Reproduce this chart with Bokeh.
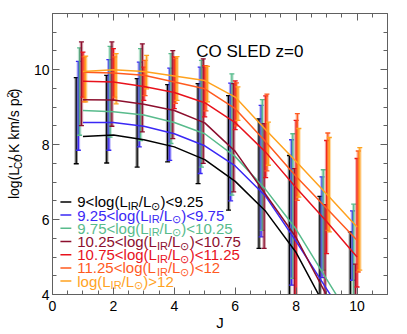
import math
from bokeh.plotting import figure
from bokeh.layouts import row
from bokeh.models import LinearAxis, Range1d, FixedTicker, ColumnDataSource, Label
from bokeh.core.properties import value, field
from bokeh.embed import file_html
from bokeh.resources import INLINE

# ---------------- data ----------------
J = [1, 2, 3, 4, 5, 6, 7, 8, 9, 10]
x_ticks = [0, 2, 4, 6, 8, 10]
y_ticks = [4, 6, 8, 10]
x_minor = [0.5 * k for k in range(23)]
y_minor = [4 + 0.5 * k for k in range(16)]

series_names = ["black", "blue", "green", "darkred", "red", "orangered", "orange"]
colors = ["#000000", "#3a28f5", "#58bb8c", "#8c0f2e", "#e8121c", "#ff5a1f", "#ffa21e"]
offsets = [-0.22, -0.15, -0.11, -0.05, 0.0, 0.04, 0.09]

model_black = [8.22, 8.26, 8.13, 7.94, 7.60, 7.02, 6.22, 5.12, 3.60, 2.20]
model_blue = [8.59, 8.59, 8.49, 8.29, 7.97, 7.43, 6.62, 5.42, 4.15, 2.90]
model_green = [8.91, 8.88, 8.79, 8.59, 8.29, 7.68, 6.80, 5.74, 4.41, 3.10]
model_darkred = [9.20, 9.19, 9.08, 8.91, 8.58, 7.82, 6.67, 5.52, 3.98, 2.50]
model_red = [9.69, 9.67, 9.55, 9.39, 9.12, 8.59, 7.80, 6.85, 5.95, 5.00]
model_orangered = [9.93, 9.91, 9.85, 9.67, 9.49, 8.96, 8.08, 7.15, 6.30, 5.45]
model_orange = [9.95, 10.00, 9.95, 9.83, 9.71, 9.27, 8.40, 7.55, 6.68, 5.80]

hi_black = [9.79, 9.85, 9.76, 9.60, 9.63, 9.31, 8.69, 7.71, 6.62, 5.67]
lo_black = [7.49, 7.51, 7.40, 7.54, 6.96, 6.25, 5.23, 3.80, 3.50, 3.00]
hi_blue = [10.22, 10.27, 10.20, 10.04, 10.07, 9.64, 9.05, 8.13, 7.14, 6.23]
lo_blue = [7.85, 7.85, 7.94, 7.58, 7.23, 6.50, 5.54, 4.25, 4.45, 4.38]
hi_green = [10.58, 10.62, 10.56, 10.43, 10.25, 9.89, 9.20, 8.29, 7.33, 6.41]
lo_green = [8.25, 8.20, 8.11, 8.03, 7.40, 6.65, 5.71, 4.43, 4.65, 3.80]
hi_darkred = [10.74, 10.74, 10.69, 10.51, 10.29, 9.63, 8.56, 7.36, 6.40, 4.81]
lo_darkred = [8.51, 8.49, 8.34, 8.16, 7.50, 6.74, 5.23, 3.80, 3.50, 3.50]
hi_red = [10.47, 10.56, 10.07, 10.34, 10.11, 9.70, 9.30, 8.65, 8.11, 7.63]
lo_red = [9.27, 9.18, 9.18, 8.96, 8.74, 8.40, 7.12, 3.80, 5.09, 4.20]
hi_orangered = [10.34, 10.34, 10.25, 10.30, 10.10, 9.65, 9.35, 8.83, 8.31, 7.83]
lo_orangered = [9.14, 9.27, 9.31, 9.10, 8.90, 8.50, 7.30, 6.51, 5.71, 4.60]
hi_orange = [10.36, 10.43, 10.38, 10.35, 10.09, 9.54, 8.60, 8.43, 8.19, 7.92]
lo_orange = [9.14, 9.09, 9.49, 9.18, 9.14, 8.65, 7.45, 6.60, 5.67, 4.65]

models = [model_black, model_blue, model_green, model_darkred, model_red, model_orangered, model_orange]
his = [hi_black, hi_blue, hi_green, hi_darkred, hi_red, hi_orangered, hi_orange]
los = [lo_black, lo_blue, lo_green, lo_darkred, lo_red, lo_orangered, lo_orange]

leg_prefix = ["9<log(L", "9.25<log(L", "9.75<log(L", "10.25<log(L", "10.75<log(L", "11.25<log(L", "log(L"]
leg_sub1 = "IR"
leg_mid = "/L"
leg_sub2 = "\u2299"
leg_suffix = [")<9.25", ")<9.75", ")<10.25", ")<10.75", ")<11.25", ")<12", ")>12"]
title_text = "CO SLED z=0"
x_label = "J"
ylab_pieces = [("log(L'", "main"), ("CO", "sub"), ("/ K km/s pc", "main"), ("2", "sup"), (")", "main")]

# ---------------- layout ----------------
FONT = "Liberation Sans"
X0, X1, Y0, Y1 = 0, 11, 4, 11.5
FW, FH = 338, 281
LABW = 30                      # side panel holding the rotated y label
LEFT, RIGHT, TOP, BOT = 19, 12, 13, 40
H = TOP + FH + BOT
ppx = FW / (X1 - X0)
ppy = FH / (Y1 - Y0)

p = figure(width=LEFT + FW + RIGHT, height=H,
           x_range=Range1d(X0, X1), y_range=Range1d(Y0, Y1),
           output_backend="svg", toolbar_location=None,
           min_border_left=LEFT, min_border_right=RIGHT, min_border_top=TOP, min_border_bottom=BOT)
p.outline_line_color = None
p.xgrid.visible = False
p.ygrid.visible = False
p.xaxis.visible = False
p.yaxis.visible = False

AXC = "#606060"


def make_axis(ticks, minor, show, standoff=4):
    ax = LinearAxis(ticker=FixedTicker(ticks=ticks, minor_ticks=minor))
    ax.axis_line_color = AXC
    ax.axis_line_width = 1
    ax.major_tick_in = 7
    ax.major_tick_out = 0
    ax.minor_tick_in = 4
    ax.minor_tick_out = 0
    ax.major_tick_line_color = AXC
    ax.minor_tick_line_color = AXC
    ax.major_label_text_font = FONT
    ax.major_label_text_color = "#000000"
    if show:
        ax.major_label_text_font_size = "14px"
        ax.major_label_standoff = standoff
    else:
        ax.major_label_text_font_size = "0px"
        ax.major_label_text_alpha = 0
        ax.major_label_standoff = 0
    return ax


xax = make_axis(x_ticks, x_minor, True, standoff=6)
xax.axis_label = x_label
xax.axis_label_text_font = FONT
xax.axis_label_text_font_size = "15px"
xax.axis_label_text_font_style = "normal"
xax.axis_label_text_color = "#000000"
xax.axis_label_standoff = 0
p.add_layout(xax, "below")
p.add_layout(make_axis(y_ticks, y_minor, True, standoff=3), "left")
p.add_layout(make_axis(x_ticks, x_minor, False), "above")
p.add_layout(make_axis(y_ticks, y_minor, False), "right")

# ---------------- error bars ----------------
for k in range(len(series_names)):
    xs = [j + offsets[k] for j in J]
    src = ColumnDataSource(dict(x=xs, hi=his[k], lo=los[k]))
    p.segment(x0="x", y0="lo", x1="x", y1="hi", source=src, line_color=colors[k],
              line_width=3.5, line_alpha=0.4)
    p.segment(x0="x", y0="lo", x1="x", y1="hi", source=src, line_color=colors[k],
              line_width=1.2)
    p.scatter(x="x", y="hi", source=src, marker="dash", size=5, line_color=colors[k], line_width=1.3)
    p.scatter(x="x", y="lo", source=src, marker="dash", size=5, line_color=colors[k], line_width=1.3)

# ---------------- model lines ----------------
for k in range(len(series_names)):
    p.line(J, models[k], line_color=colors[k], line_width=1.5)

# ---------------- legend ----------------
W = {'<': 584, '>': 584, 'l': 222, 'o': 556, 'g': 556, '(': 333, ')': 333, 'L': 556,
     '/': 278, '.': 278, 'I': 278, 'R': 722, 'C': 722, 'O': 778, ' ': 278, 'K': 667,
     'k': 500, 'm': 833, 's': 500, 'p': 556, 'c': 500, "'": 191, '\u2299': 838,
     'z': 500, '=': 584, 'S': 667, 'E': 667, 'D': 722}


def tw(s, size):
    return sum(W.get(ch, 556) for ch in s) * size / 1000.0


LEG_X = X0 + 25 / ppx          # text start (25 px right of frame)
LEG_Y = Y0 + 92.6 / ppy        # first baseline
ROW = 13.2 / ppy
MAIN, SUB = 15, 11

tx, ty, tt, txo, tyo, tsz, tcol = [], [], [], [], [], [], []
for i in range(len(leg_prefix)):
    y = LEG_Y - i * ROW
    pieces = [(leg_prefix[i], MAIN, 0), (leg_sub1, SUB, 4), (leg_mid, MAIN, 0),
              (leg_sub2, SUB, 4), (leg_suffix[i], MAIN, 0)]
    off = 0.0
    for s, sz, dy in pieces:
        tx.append(LEG_X); ty.append(y); tt.append(s); txo.append(off); tyo.append(dy)
        tsz.append(f"{sz}px"); tcol.append(colors[i])
        off += tw(s, sz)
    p.segment(x0=[LEG_X - 17 / ppx], y0=[y], x1=[LEG_X - 6 / ppx], y1=[y],
              line_color=colors[i], line_width=1.5)

leg_src = ColumnDataSource(dict(x=tx, y=ty, text=tt, xo=txo, yo=tyo, size=tsz, color=tcol))
p.text(x="x", y="y", text="text", source=leg_src, x_offset=field("xo"), y_offset=field("yo"),
       text_font_size=field("size"), text_color=field("color"), text_font=value(FONT),
       text_baseline="alphabetic", text_align="left")

# ---------------- title ----------------
p.add_layout(Label(x=X0 + 145 / ppx, y=Y1 - 37.5 / ppy, text=title_text, text_font=FONT,
                   text_font_size="17px", text_color="#000000", text_baseline="alphabetic"))

# ---------------- y label in a narrow side figure (pixel coordinates) ----------------
q = figure(width=LABW, height=H, x_range=Range1d(0, LABW), y_range=Range1d(0, H),
           output_backend="svg", toolbar_location=None,
           x_axis_location=None, y_axis_location=None,
           min_border_left=0, min_border_right=0, min_border_top=0, min_border_bottom=0)
q.grid.visible = False
q.outline_line_color = None

sizes = {"main": 14, "sub": 10, "sup": 9}
shift = {"main": 0, "sub": 3, "sup": -5}
total = sum(tw(s, sizes[kind]) for s, kind in ylab_pieces)
center = H - (TOP + FH / 2)
base_x = 18                     # baseline of the rotated main text (px from left)
pos = center - total / 2
lx, ly, lt, ls = [], [], [], []
for s, kind in ylab_pieces:
    w = tw(s, sizes[kind])
    # anchor each piece at its own centre (rotation is about the anchor)
    lx.append(base_x + shift[kind] - 0.35 * sizes[kind])
    ly.append(pos + w / 2)
    lt.append(s)
    ls.append(f"{sizes[kind]}px")
    pos += w
ysrc = ColumnDataSource(dict(x=lx, y=ly, text=lt, size=ls))
q.text(x="x", y="y", text="text", source=ysrc, angle=math.pi / 2, text_font=value(FONT),
       text_font_size=field("size"), text_color="#000000", text_baseline="middle",
       text_align="center")

layout = row(q, p, spacing=0)
open("out.html", "w").write(file_html(layout, INLINE))
